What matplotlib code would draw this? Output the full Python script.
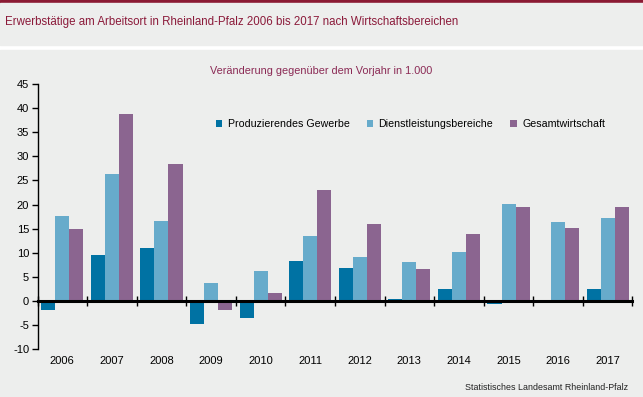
import numpy as np
from matplotlib import pyplot as plt
from matplotlib.patches import Rectangle
import matplotlib.transforms as mtransforms

plt.rcParams['font.family'] = ['Liberation Sans', 'DejaVu Sans']
plt.rcParams['axes.unicode_minus'] = False

years = ["2006","2007","2008","2009","2010","2011","2012","2013","2014","2015","2016","2017"]
produzierend = [-1.9, 9.6, 10.9, -4.7, -3.6, 8.4, 6.9, 0.5, 2.4, -0.7, 0.0, 2.4]
dienstleistung = [17.7, 26.4, 16.6, 3.8, 6.3, 13.5, 9.2, 8.2, 10.2, 20.2, 16.3, 17.3]
gesamt = [15.0, 38.7, 28.5, -1.9, 1.7, 23.1, 16.0, 6.7, 13.8, 19.4, 15.2, 19.6]
labels = ["Produzierendes Gewerbe", "Dienstleistungsbereiche", "Gesamtwirtschaft"]
colors = ["#0072a3", "#67abcb", "#8b6590"]

W, H = 643, 397
bg = "#edeeed"
fig = plt.figure(figsize=(W/100, H/100), dpi=100)
fig.patch.set_facecolor("white")

# header bands
fig.patches.append(Rectangle((0, (H-3)/H), 1, 3/H, transform=fig.transFigure, color="#8b1a33", zorder=-1))
fig.patches.append(Rectangle((0, (H-45)/H), 1, 42/H, transform=fig.transFigure, color=bg, zorder=-1))
fig.patches.append(Rectangle((0, 0), 1, (H-50)/H, transform=fig.transFigure, color=bg, zorder=-1))

fig.text(5/W, 1-22/H, "Erwerbstätige am Arbeitsort in Rheinland-Pfalz 2006 bis 2017 nach Wirtschaftsbereichen",
         fontsize=8.3, color="#8b1a3a", va="center", ha="left")
fig.text(321/W, 1-71/H, "Veränderung gegenüber dem Vorjahr in 1.000",
         fontsize=7.8, color="#8b2a55", va="center", ha="center")
fig.text(628/W, 1-388/H, "Statistisches Landesamt Rheinland-Pfalz",
         fontsize=6.4, color="#222222", va="center", ha="right")

left, right = 37.5, 632.5
top, bottom = 84, 349.3
ax = fig.add_axes([left/W, 1-bottom/H, (right-left)/W, (bottom-top)/H])
ax.set_facecolor(bg)
ax.set_zorder(2)

x = np.arange(len(years))
w = 0.283
ax.bar(x - w, produzierend, w, color=colors[0], label=labels[0], zorder=2)
ax.bar(x, dienstleistung, w, color=colors[1], label=labels[1], zorder=2)
ax.bar(x + w, gesamt, w, color=colors[2], label=labels[2], zorder=2)

ax.set_xlim(-0.5, len(years) - 0.5)
ax.set_ylim(-10, 45)
ax.set_yticks(np.arange(-10, 50, 5))
ax.tick_params(axis="y", direction="out", length=4, width=1, labelsize=8, pad=2, colors="black")

for s in ["top", "right"]:
    ax.spines[s].set_visible(False)
ax.spines["left"].set_linewidth(1)
ax.spines["bottom"].set_position(("data", 0))
ax.spines["bottom"].set_linewidth(2.2)
ax.spines["bottom"].set_zorder(3)
ax.set_xticks(np.arange(-0.5, len(years), 1))
ax.set_xticklabels([])
ax.tick_params(axis="x", direction="inout", length=7, width=1)

trans = mtransforms.blended_transform_factory(ax.transData, ax.transAxes)
for i, yr in enumerate(years):
    ax.text(i, -0.044, yr, transform=trans, ha="center", va="center", fontsize=8)

ax.legend(loc="center left", bbox_to_anchor=(0.3, 0.849), ncol=3, frameon=False,
          borderpad=0, borderaxespad=0, fontsize=7.7, handlelength=0.6, handleheight=0.6,
          handletextpad=0.5, columnspacing=1.6)

plt.savefig("out.png", dpi=100, facecolor=fig.get_facecolor())
